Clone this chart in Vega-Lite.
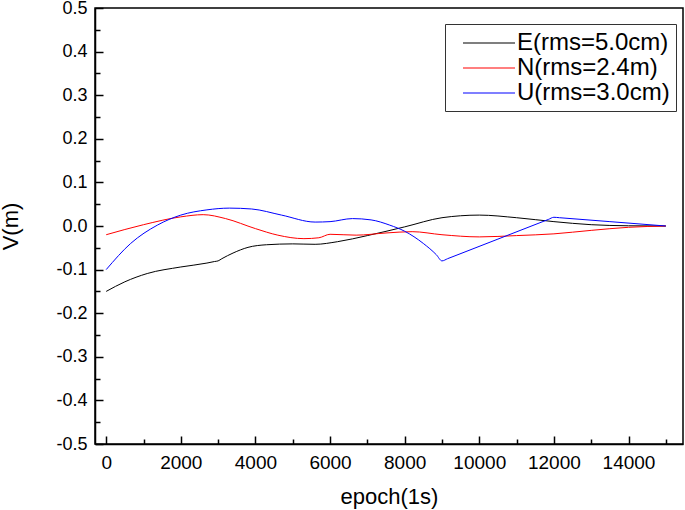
{
  "$schema": "https://vega.github.io/schema/vega-lite/v6.json",
  "width": 588,
  "height": 436,
  "autosize": {"type": "none"},
  "padding": {"left": 95, "top": 8, "right": 2, "bottom": 66},
  "background": "white",
  "config": {
    "view": {"stroke": "black", "strokeWidth": 1.5},
    "font": "Liberation Sans",
    "axis": {"grid": false, "domainColor": "black", "domainWidth": 1.5, "tickColor": "black", "tickWidth": 1.5, "labelColor": "black", "titleColor": "black", "labelFont": "Liberation Sans", "titleFont": "Liberation Sans", "titleFontWeight": "normal"}
  },
  "data": {"values": [
    {"epoch": 0, "v": -0.15, "series": "E(rms=5.0cm)"},
    {"epoch": 500, "v": -0.128, "series": "E(rms=5.0cm)"},
    {"epoch": 1100, "v": -0.109, "series": "E(rms=5.0cm)"},
    {"epoch": 2000, "v": -0.094, "series": "E(rms=5.0cm)"},
    {"epoch": 2700, "v": -0.085, "series": "E(rms=5.0cm)"},
    {"epoch": 2900, "v": -0.0815, "series": "E(rms=5.0cm)"},
    {"epoch": 3000, "v": -0.08, "series": "E(rms=5.0cm)"},
    {"epoch": 3100, "v": -0.075, "series": "E(rms=5.0cm)"},
    {"epoch": 3400, "v": -0.062, "series": "E(rms=5.0cm)"},
    {"epoch": 3800, "v": -0.049, "series": "E(rms=5.0cm)"},
    {"epoch": 4300, "v": -0.043, "series": "E(rms=5.0cm)"},
    {"epoch": 5000, "v": -0.041, "series": "E(rms=5.0cm)"},
    {"epoch": 5600, "v": -0.042, "series": "E(rms=5.0cm)"},
    {"epoch": 6200, "v": -0.036, "series": "E(rms=5.0cm)"},
    {"epoch": 7000, "v": -0.022, "series": "E(rms=5.0cm)"},
    {"epoch": 8000, "v": -0.002, "series": "E(rms=5.0cm)"},
    {"epoch": 9000, "v": 0.019, "series": "E(rms=5.0cm)"},
    {"epoch": 10000, "v": 0.025, "series": "E(rms=5.0cm)"},
    {"epoch": 11000, "v": 0.019, "series": "E(rms=5.0cm)"},
    {"epoch": 12000, "v": 0.01, "series": "E(rms=5.0cm)"},
    {"epoch": 13000, "v": 0.003, "series": "E(rms=5.0cm)"},
    {"epoch": 14000, "v": 0.0005, "series": "E(rms=5.0cm)"},
    {"epoch": 15000, "v": 0.0, "series": "E(rms=5.0cm)"},
    {"epoch": 0, "v": -0.02, "series": "N(rms=2.4m)"},
    {"epoch": 1000, "v": 0.003, "series": "N(rms=2.4m)"},
    {"epoch": 2000, "v": 0.021, "series": "N(rms=2.4m)"},
    {"epoch": 2600, "v": 0.026, "series": "N(rms=2.4m)"},
    {"epoch": 3200, "v": 0.017, "series": "N(rms=2.4m)"},
    {"epoch": 4000, "v": -0.006, "series": "N(rms=2.4m)"},
    {"epoch": 4600, "v": -0.021, "series": "N(rms=2.4m)"},
    {"epoch": 5300, "v": -0.029, "series": "N(rms=2.4m)"},
    {"epoch": 5700, "v": -0.027, "series": "N(rms=2.4m)"},
    {"epoch": 6000, "v": -0.019, "series": "N(rms=2.4m)"},
    {"epoch": 6700, "v": -0.021, "series": "N(rms=2.4m)"},
    {"epoch": 7500, "v": -0.016, "series": "N(rms=2.4m)"},
    {"epoch": 8200, "v": -0.013, "series": "N(rms=2.4m)"},
    {"epoch": 9000, "v": -0.02, "series": "N(rms=2.4m)"},
    {"epoch": 10000, "v": -0.025, "series": "N(rms=2.4m)"},
    {"epoch": 11000, "v": -0.022, "series": "N(rms=2.4m)"},
    {"epoch": 12000, "v": -0.018, "series": "N(rms=2.4m)"},
    {"epoch": 13000, "v": -0.01, "series": "N(rms=2.4m)"},
    {"epoch": 14000, "v": -0.003, "series": "N(rms=2.4m)"},
    {"epoch": 15000, "v": 0.0, "series": "N(rms=2.4m)"},
    {"epoch": 0, "v": -0.1, "series": "U(rms=3.0cm)"},
    {"epoch": 656, "v": -0.04, "series": "U(rms=3.0cm)"},
    {"epoch": 1371, "v": 0.002, "series": "U(rms=3.0cm)"},
    {"epoch": 2000, "v": 0.025, "series": "U(rms=3.0cm)"},
    {"epoch": 2700, "v": 0.037, "series": "U(rms=3.0cm)"},
    {"epoch": 3300, "v": 0.041, "series": "U(rms=3.0cm)"},
    {"epoch": 3900, "v": 0.039, "series": "U(rms=3.0cm)"},
    {"epoch": 4700, "v": 0.025, "series": "U(rms=3.0cm)"},
    {"epoch": 5600, "v": 0.009, "series": "U(rms=3.0cm)"},
    {"epoch": 6000, "v": 0.01, "series": "U(rms=3.0cm)"},
    {"epoch": 6600, "v": 0.017, "series": "U(rms=3.0cm)"},
    {"epoch": 7100, "v": 0.014, "series": "U(rms=3.0cm)"},
    {"epoch": 7600, "v": 0.002, "series": "U(rms=3.0cm)"},
    {"epoch": 8000, "v": -0.012, "series": "U(rms=3.0cm)"},
    {"epoch": 8500, "v": -0.04, "series": "U(rms=3.0cm)"},
    {"epoch": 8850, "v": -0.066, "series": "U(rms=3.0cm)"},
    {"epoch": 9000, "v": -0.08, "series": "U(rms=3.0cm)"},
    {"epoch": 9150, "v": -0.075, "series": "U(rms=3.0cm)"},
    {"epoch": 10500, "v": -0.03, "series": "U(rms=3.0cm)"},
    {"epoch": 11850, "v": 0.015, "series": "U(rms=3.0cm)"},
    {"epoch": 12000, "v": 0.02, "series": "U(rms=3.0cm)"},
    {"epoch": 12150, "v": 0.019, "series": "U(rms=3.0cm)"},
    {"epoch": 13500, "v": 0.01, "series": "U(rms=3.0cm)"},
    {"epoch": 15000, "v": 0.0, "series": "U(rms=3.0cm)"}
  ]},
  "layer": [
    {
      "mark": {"type": "line", "strokeWidth": 1, "clip": true, "interpolate": "monotone"},
      "encoding": {
        "x": {"field": "epoch", "type": "quantitative", "scale": {"domain": [-300, 15460], "nice": false, "zero": false},
          "axis": {"values": [0, 2000, 4000, 6000, 8000, 10000, 12000, 14000], "format": "d", "tickSize": -8, "labelPadding": 17.5, "labelFontSize": 19, "title": "epoch(1s)", "titleFontSize": 22, "titlePadding": 14}},
        "y": {"field": "v", "type": "quantitative", "scale": {"domain": [-0.5, 0.5], "nice": false},
          "axis": {"values": [-0.5, -0.4, -0.3, -0.2, -0.1, 0, 0.1, 0.2, 0.3, 0.4, 0.5], "labelExpr": "(datum.value < -0.001 ? '-' : '') + format(abs(datum.value), '.1f')", "tickSize": -8, "labelPadding": 16, "labelFontSize": 18, "title": "V(m)", "titleFontSize": 22, "titlePadding": 33}},
        "color": {"field": "series", "type": "nominal",
          "scale": {"domain": ["E(rms=5.0cm)", "N(rms=2.4m)", "U(rms=3.0cm)"], "range": ["#000000", "#ff0000", "#0000ff"]},
          "legend": {"title": null, "orient": "none", "legendX": 350, "legendY": 16, "strokeColor": "#333333", "fillColor": "white", "padding": 6, "symbolType": "M-0.077,-0.04H3.923V0.04H-0.077Z", "symbolSize": 676, "symbolStrokeWidth": 0, "labelFontSize": 24, "labelFont": "Liberation Sans", "labelColor": "black", "labelOffset": 40, "rowPadding": -1,
            "encode": {"symbols": {"update": {"fill": {"signal": "scale('color', datum.value)"}, "fillOpacity": {"value": 1}, "strokeWidth": {"value": 0}}}}}}
      }
    },
    {
      "mark": {"type": "line", "opacity": 0},
      "encoding": {
        "x": {"field": "epoch", "type": "quantitative", "axis": {"orient": "bottom", "values": [1000, 3000, 5000, 7000, 9000, 11000, 13000, 15000], "tickSize": -5, "labels": false, "domain": false, "title": null}},
        "y": {"field": "v", "type": "quantitative", "axis": {"orient": "left", "values": [-0.45, -0.35, -0.25, -0.15, -0.05, 0.05, 0.15, 0.25, 0.35, 0.45], "tickSize": -5, "labels": false, "domain": false, "title": null}},
        "detail": {"field": "series"}
      }
    }
  ],
  "resolve": {"axis": {"x": "independent", "y": "independent"}}
}
